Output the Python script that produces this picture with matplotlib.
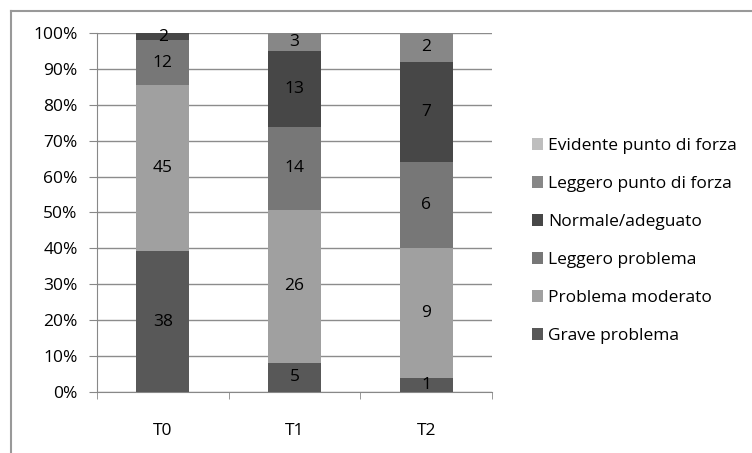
import numpy as np
import matplotlib.pyplot as plt
from matplotlib.lines import Line2D
from matplotlib.patches import Patch

plt.rcParams['font.family'] = ['Open Sans', 'DejaVu Sans']
plt.rcParams['font.size'] = 12.5

groups = ['T0', 'T1', 'T2']
series = ['Grave problema', 'Problema moderato', 'Leggero problema',
          'Normale/adeguato', 'Leggero punto di forza', 'Evidente punto di forza']
counts = np.array([
    [38, 5, 1],    # Grave problema
    [45, 26, 9],   # Problema moderato
    [12, 14, 6],   # Leggero problema
    [2, 13, 7],    # Normale/adeguato
    [0, 3, 2],     # Leggero punto di forza
    [0, 0, 0],     # Evidente punto di forza
])
colors = ['#585858', '#a0a0a0', '#777777', '#474747', '#878787', '#bebebe']

perc = counts / counts.sum(axis=0) * 100

fig = plt.figure(figsize=(7.52, 4.53), dpi=100)
ax = fig.add_axes([97 / 752, 1 - 392 / 453, 395 / 752, 359 / 453])

x = np.arange(len(groups))
bottom = np.zeros(len(groups))
for i, name in enumerate(series):
    ax.bar(x, perc[i], 0.4, bottom=bottom, color=colors[i], zorder=3)
    for j in range(len(groups)):
        if counts[i, j] > 0:
            ax.text(x[j], bottom[j] + perc[i, j] / 2, str(counts[i, j]),
                    ha='center', va='center', color='black', zorder=4)
    bottom += perc[i]

ax.set_xlim(-0.5, 2.5)
ax.set_ylim(0, 100)
ax.set_yticks(np.arange(0, 101, 10))
ax.set_yticklabels([f'{v}%' for v in range(0, 101, 10)])
ax.set_xticks(x)
ax.set_xticklabels(groups)
ax.set_xticks([-0.5, 0.5, 1.5, 2.5], minor=True)
ax.tick_params(axis='x', which='major', length=0, pad=22)
ax.tick_params(axis='x', which='minor', length=5, color='#888888')
ax.tick_params(axis='y', length=6, color='#888888', pad=8)
ax.grid(axis='y', color='#8c8c8c', linewidth=1, zorder=0)
for s in ['top', 'right']:
    ax.spines[s].set_visible(False)
for s in ['left', 'bottom']:
    ax.spines[s].set_color('#888888')

handles = [Patch(facecolor=colors[i], edgecolor='none') for i in range(len(series))][::-1]
fig.legend(handles, series[::-1], loc='upper left',
           bbox_to_anchor=(525 / 752, 1 - 131 / 453), frameon=False,
           handlelength=0.65, handleheight=0.65, handletextpad=0.3,
           labelspacing=1.27, borderaxespad=0)

# outer chart frame
fig.add_artist(Line2D([11 / 752, 1], [1 - 10.5 / 453] * 2, color='#999999', lw=1.5))
fig.add_artist(Line2D([11 / 752] * 2, [0, 1 - 10.5 / 453], color='#999999', lw=1.5))

fig.savefig('out.png', dpi=100)
